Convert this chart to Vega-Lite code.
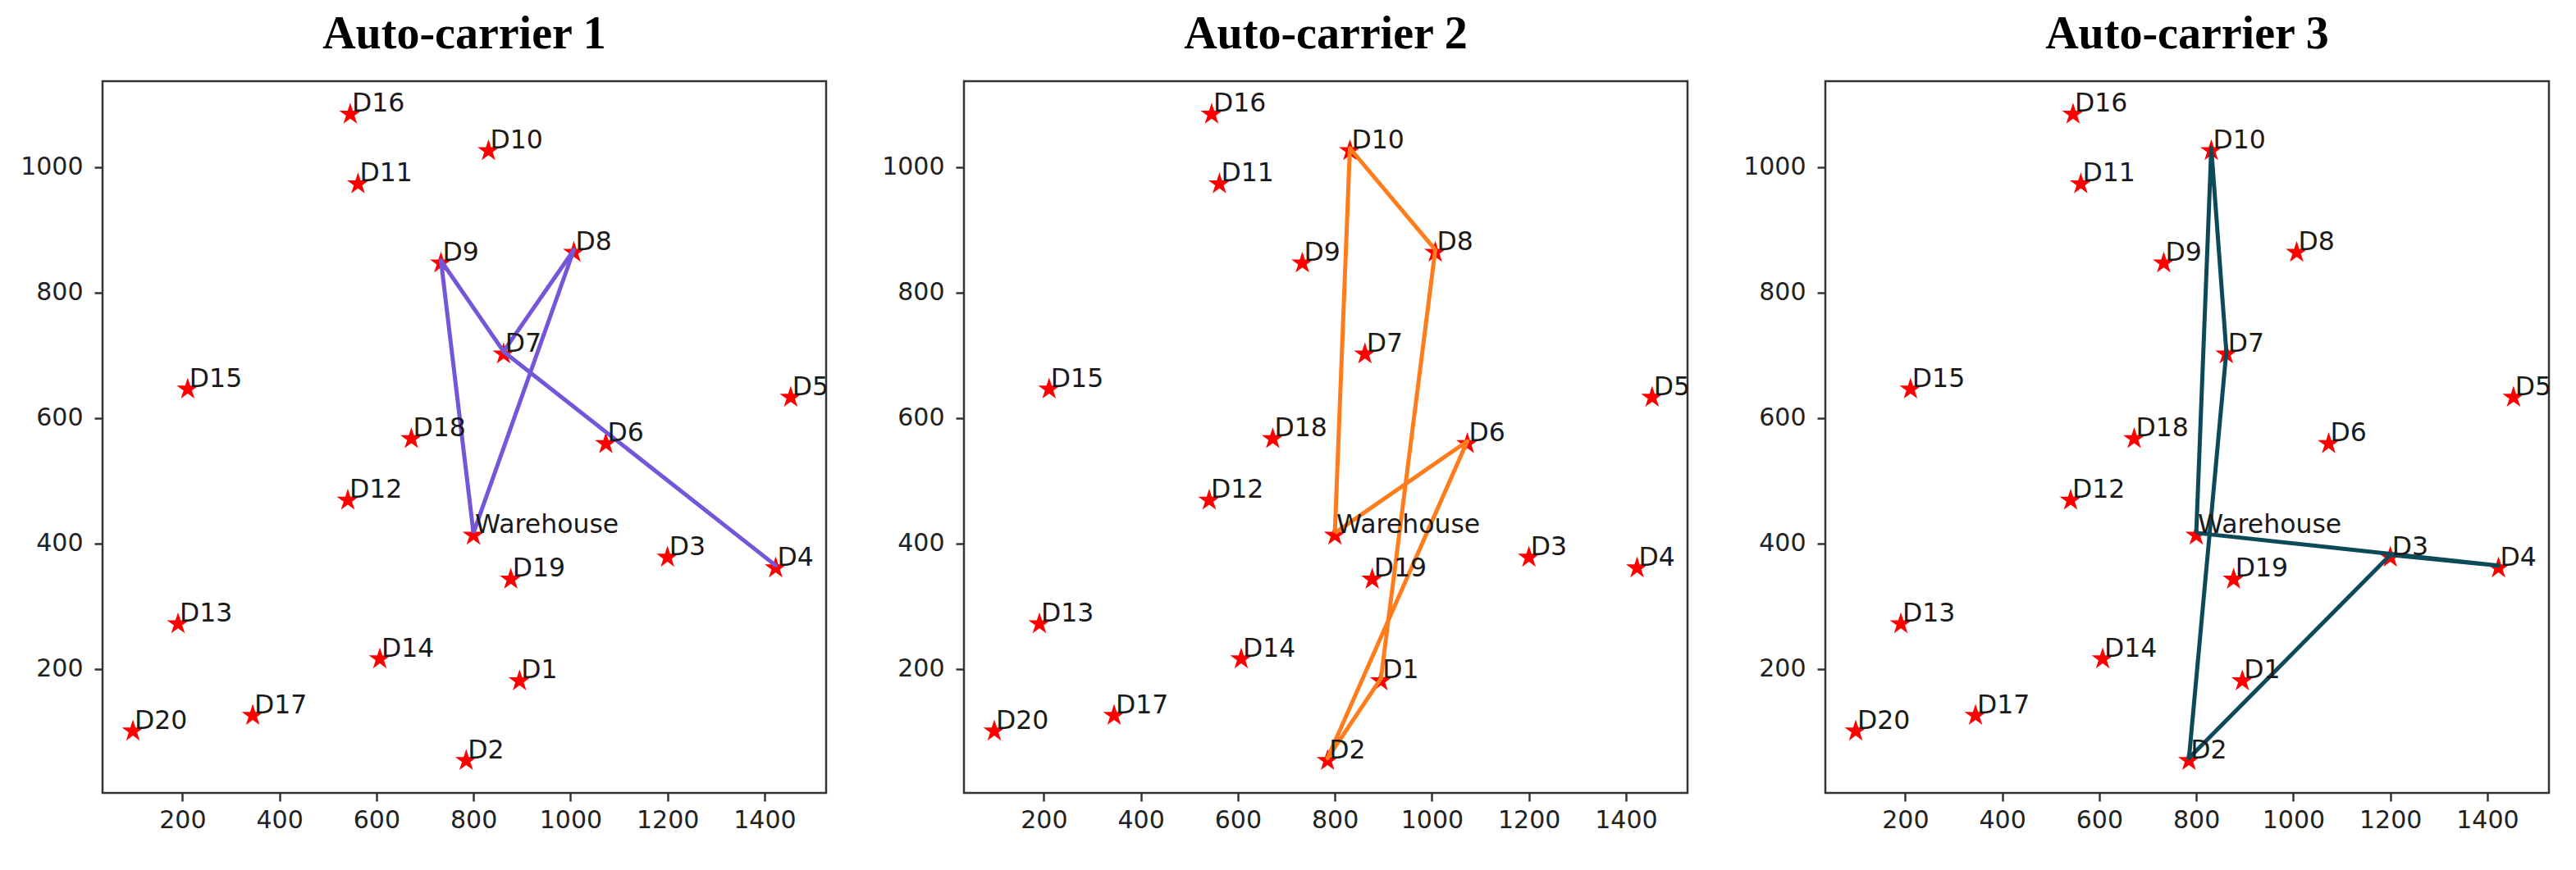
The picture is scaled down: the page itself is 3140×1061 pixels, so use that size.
{
  "$schema": "https://vega.github.io/schema/vega-lite/v6.json",
  "background": "white",
  "padding": {"left": 23, "top": 12, "right": 5, "bottom": 5},
  "spacing": 64,
  "datasets": {
    "stops": [
      {"name": "Warehouse", "x": 800, "y": 413},
      {"name": "D1", "x": 895, "y": 181},
      {"name": "D2", "x": 785, "y": 54},
      {"name": "D3", "x": 1200, "y": 378},
      {"name": "D4", "x": 1423, "y": 361},
      {"name": "D5", "x": 1454, "y": 633},
      {"name": "D6", "x": 1073, "y": 559},
      {"name": "D7", "x": 862, "y": 702},
      {"name": "D8", "x": 1007, "y": 864},
      {"name": "D9", "x": 733, "y": 847},
      {"name": "D10", "x": 831, "y": 1026},
      {"name": "D11", "x": 562, "y": 973},
      {"name": "D12", "x": 541, "y": 469},
      {"name": "D13", "x": 191, "y": 272},
      {"name": "D14", "x": 607, "y": 216},
      {"name": "D15", "x": 211, "y": 646},
      {"name": "D16", "x": 546, "y": 1084},
      {"name": "D17", "x": 345, "y": 126},
      {"name": "D18", "x": 672, "y": 567},
      {"name": "D19", "x": 877, "y": 343},
      {"name": "D20", "x": 98, "y": 101}
    ],
    "r1": [
      {"seq": 0, "stop": "Warehouse", "x": 800, "y": 417},
      {"seq": 1, "stop": "D9", "x": 733, "y": 851},
      {"seq": 2, "stop": "D7", "x": 862, "y": 706},
      {"seq": 3, "stop": "D4", "x": 1423, "y": 365},
      {"seq": 4, "stop": "D7", "x": 862, "y": 706},
      {"seq": 5, "stop": "D8", "x": 1007, "y": 868},
      {"seq": 6, "stop": "Warehouse", "x": 800, "y": 417}
    ],
    "r2": [
      {"seq": 0, "stop": "Warehouse", "x": 800, "y": 417},
      {"seq": 1, "stop": "D10", "x": 831, "y": 1030},
      {"seq": 2, "stop": "D8", "x": 1007, "y": 868},
      {"seq": 3, "stop": "D1", "x": 895, "y": 185},
      {"seq": 4, "stop": "D2", "x": 785, "y": 58},
      {"seq": 5, "stop": "D6", "x": 1073, "y": 563},
      {"seq": 6, "stop": "Warehouse", "x": 800, "y": 417}
    ],
    "r3": [
      {"seq": 0, "stop": "Warehouse", "x": 800, "y": 417},
      {"seq": 1, "stop": "D10", "x": 831, "y": 1030},
      {"seq": 2, "stop": "D7", "x": 862, "y": 706},
      {"seq": 3, "stop": "D2", "x": 785, "y": 58},
      {"seq": 4, "stop": "D3", "x": 1200, "y": 382},
      {"seq": 5, "stop": "D4", "x": 1423, "y": 365},
      {"seq": 6, "stop": "Warehouse", "x": 800, "y": 417}
    ]
  },
  "hconcat": [
    {
      "title": "Auto-carrier 1",
      "width": 882,
      "height": 868,
      "layer": [
        {
          "data": {"name": "stops"},
          "mark": {"type": "point", "shape": "M0,-1L0.2245,-0.309L0.951,-0.309L0.363,0.118L0.588,0.809L0,0.382L-0.588,0.809L-0.363,0.118L-0.951,-0.309L-0.2245,-0.309Z", "size": 800, "filled": true, "color": "#ff0000", "opacity": 1, "strokeWidth": 0},
          "encoding": {
            "x": {"field": "x", "type": "quantitative", "scale": {"domain": [35.4, 1527], "nice": false, "zero": false}, "axis": {"values": [200, 400, 600, 800, 1000, 1200, 1400], "format": "d", "title": null}},
            "y": {"field": "y", "type": "quantitative", "scale": {"domain": [2.6, 1136.8], "nice": false, "zero": false}, "axis": {"values": [200, 400, 600, 800, 1000], "format": "d", "title": null}}
          }
        },
        {
          "data": {"name": "r1"},
          "mark": {"type": "line", "color": "#7456d8", "strokeWidth": 5, "strokeJoin": "round"},
          "encoding": {
            "x": {"field": "x", "type": "quantitative"},
            "y": {"field": "y", "type": "quantitative"},
            "order": {"field": "seq", "type": "quantitative"}
          }
        },
        {
          "data": {"name": "stops"},
          "mark": {"type": "text", "clip": true, "align": "left", "baseline": "alphabetic", "dx": 2, "dy": -3, "fontSize": 31.5, "font": "DejaVu Sans", "color": "#1a1a1a"},
          "encoding": {
            "x": {"field": "x", "type": "quantitative"},
            "y": {"field": "y", "type": "quantitative"},
            "text": {"field": "name", "type": "nominal"}
          }
        }
      ]
    },
    {
      "title": "Auto-carrier 2",
      "width": 882,
      "height": 868,
      "layer": [
        {
          "data": {"name": "stops"},
          "mark": {"type": "point", "shape": "M0,-1L0.2245,-0.309L0.951,-0.309L0.363,0.118L0.588,0.809L0,0.382L-0.588,0.809L-0.363,0.118L-0.951,-0.309L-0.2245,-0.309Z", "size": 800, "filled": true, "color": "#ff0000", "opacity": 1, "strokeWidth": 0},
          "encoding": {
            "x": {"field": "x", "type": "quantitative", "scale": {"domain": [35.4, 1527], "nice": false, "zero": false}, "axis": {"values": [200, 400, 600, 800, 1000, 1200, 1400], "format": "d", "title": null}},
            "y": {"field": "y", "type": "quantitative", "scale": {"domain": [2.6, 1136.8], "nice": false, "zero": false}, "axis": {"values": [200, 400, 600, 800, 1000], "format": "d", "title": null}}
          }
        },
        {
          "data": {"name": "r2"},
          "mark": {"type": "line", "color": "#ff7c1c", "strokeWidth": 5, "strokeJoin": "round"},
          "encoding": {
            "x": {"field": "x", "type": "quantitative"},
            "y": {"field": "y", "type": "quantitative"},
            "order": {"field": "seq", "type": "quantitative"}
          }
        },
        {
          "data": {"name": "stops"},
          "mark": {"type": "text", "clip": true, "align": "left", "baseline": "alphabetic", "dx": 2, "dy": -3, "fontSize": 31.5, "font": "DejaVu Sans", "color": "#1a1a1a"},
          "encoding": {
            "x": {"field": "x", "type": "quantitative"},
            "y": {"field": "y", "type": "quantitative"},
            "text": {"field": "name", "type": "nominal"}
          }
        }
      ]
    },
    {
      "title": "Auto-carrier 3",
      "width": 882,
      "height": 868,
      "layer": [
        {
          "data": {"name": "stops"},
          "mark": {"type": "point", "shape": "M0,-1L0.2245,-0.309L0.951,-0.309L0.363,0.118L0.588,0.809L0,0.382L-0.588,0.809L-0.363,0.118L-0.951,-0.309L-0.2245,-0.309Z", "size": 800, "filled": true, "color": "#ff0000", "opacity": 1, "strokeWidth": 0},
          "encoding": {
            "x": {"field": "x", "type": "quantitative", "scale": {"domain": [35.4, 1527], "nice": false, "zero": false}, "axis": {"values": [200, 400, 600, 800, 1000, 1200, 1400], "format": "d", "title": null}},
            "y": {"field": "y", "type": "quantitative", "scale": {"domain": [2.6, 1136.8], "nice": false, "zero": false}, "axis": {"values": [200, 400, 600, 800, 1000], "format": "d", "title": null}}
          }
        },
        {
          "data": {"name": "r3"},
          "mark": {"type": "line", "color": "#0c4a5a", "strokeWidth": 5, "strokeJoin": "round"},
          "encoding": {
            "x": {"field": "x", "type": "quantitative"},
            "y": {"field": "y", "type": "quantitative"},
            "order": {"field": "seq", "type": "quantitative"}
          }
        },
        {
          "data": {"name": "stops"},
          "mark": {"type": "text", "clip": true, "align": "left", "baseline": "alphabetic", "dx": 2, "dy": -3, "fontSize": 31.5, "font": "DejaVu Sans", "color": "#1a1a1a"},
          "encoding": {
            "x": {"field": "x", "type": "quantitative"},
            "y": {"field": "y", "type": "quantitative"},
            "text": {"field": "name", "type": "nominal"}
          }
        }
      ]
    }
  ],
  "config": {
    "view": {"stroke": "#333333", "strokeWidth": 2.5},
    "axis": {
      "grid": false,
      "domain": false,
      "ticks": true,
      "tickSize": 10,
      "tickWidth": 2.5,
      "tickColor": "#333333",
      "labelFont": "DejaVu Sans",
      "labelFontSize": 30,
      "labelColor": "#222222",
      "labelFlush": false,
      "labelOverlap": false
    },
    "axisY": {"labelPadding": 14},
    "axisX": {"labelPadding": 8},
    "title": {
      "font": "Liberation Serif",
      "fontSize": 56,
      "fontWeight": "bold",
      "color": "#000000",
      "anchor": "middle",
      "baseline": "alphabetic",
      "offset": 28
    }
  }
}
